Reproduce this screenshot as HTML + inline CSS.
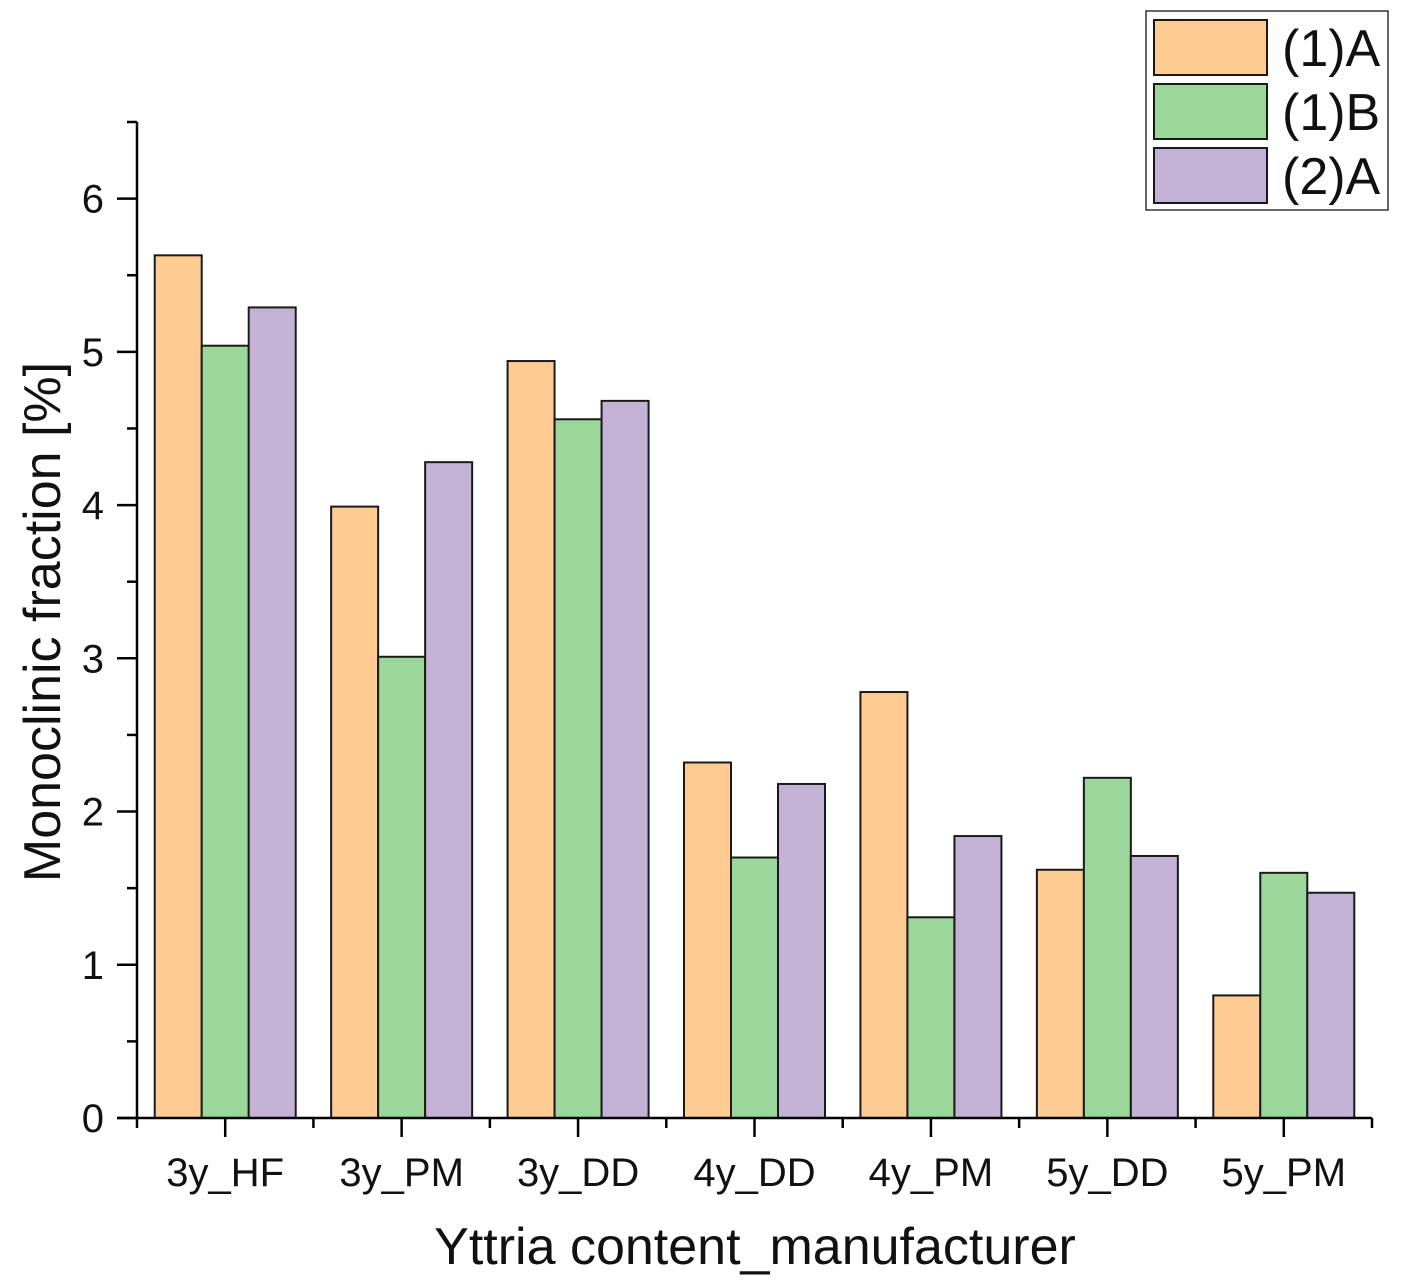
<!DOCTYPE html>
<html><head><meta charset="utf-8"><style>
html,body{margin:0;padding:0;background:#fff;}
svg{display:block;font-family:"Liberation Sans",Arial,sans-serif;}
</style></head><body>
<svg id="chart" width="1402" height="1284" viewBox="0 0 1402 1284" xmlns="http://www.w3.org/2000/svg"></svg>
<script>
const categories=["3y_HF","3y_PM","3y_DD","4y_DD","4y_PM","5y_DD","5y_PM"];
const seriesNames=["(1)A","(1)B","(2)A"];
const seriesA=[5.63,3.99,4.94,2.32,2.78,1.62,0.80];
const seriesB=[5.04,3.01,4.56,1.70,1.31,2.22,1.60];
const seriesC=[5.29,4.28,4.68,2.18,1.84,1.71,1.47];
const yTicks=[0,1,2,3,4,5,6];
const colors=["#FECB92","#9BD69B","#C4B2D6"];
const NS="http://www.w3.org/2000/svg";
const svg=document.getElementById('chart');
const x0=137,x1=1372,y0=1118,yTop=122,yMax=6.5;
const yScale=v=>y0-(v/yMax)*(y0-yTop);
const catW=(x1-x0)/categories.length;
const xCenter=i=>x0+catW*(i+0.5);
const barW=47;
function mk(tag,attrs){const e=document.createElementNS(NS,tag);for(const k in attrs)e.setAttribute(k,attrs[k]);svg.appendChild(e);return e;}
const all=[seriesA,seriesB,seriesC];
all.forEach((s,si)=>{s.forEach((v,i)=>{
  const r=mk('rect',{x:xCenter(i)-1.5*barW+si*barW,y:yScale(v),width:barW,height:y0-yScale(v),fill:colors[si],stroke:'#1a1a1a','stroke-width':2});
  
  
});});
const ya=mk('line',{x1:x0,y1:yTop,x2:x0,y2:y0+1,stroke:'#000','stroke-width':2.5});

mk('line',{x1:x0-10,y1:yTop,x2:x0,y2:yTop,stroke:'#000','stroke-width':2.5});
const xa=mk('line',{x1:x0-20,y1:y0,x2:x1,y2:y0,stroke:'#000','stroke-width':2.5});

yTicks.forEach(t=>{
  mk('line',{x1:x0-20,y1:yScale(t),x2:x0,y2:yScale(t),stroke:'#000','stroke-width':2.5});
  if(t<6)mk('line',{x1:x0-10,y1:yScale(t+0.5),x2:x0,y2:yScale(t+0.5),stroke:'#000','stroke-width':2.5});
  const tx=mk('text',{x:104,y:yScale(t)+14,'text-anchor':'end','font-size':40,fill:'#111'});
  tx.textContent=t;
  
});
for(let i=0;i<=categories.length;i++){
  mk('line',{x1:x0+catW*i,y1:y0,x2:x0+catW*i,y2:y0+10,stroke:'#000','stroke-width':2.5});
}
categories.forEach((c,i)=>{
  mk('line',{x1:xCenter(i),y1:y0,x2:xCenter(i),y2:y0+19,stroke:'#000','stroke-width':2.5});
  const tx=mk('text',{x:xCenter(i),y:1186,'text-anchor':'middle','font-size':40,fill:'#111'});
  tx.textContent=c;
  
});
const xt=mk('text',{x:755,y:1264,'text-anchor':'middle','font-size':52,fill:'#111'});
xt.textContent='Yttria content_manufacturer';

const yt=mk('text',{x:0,y:0,'text-anchor':'middle','font-size':52,fill:'#111',transform:'translate(60,622) rotate(-90)'});
yt.textContent='Monoclinic fraction [%]';

const lg=mk('rect',{x:1146,y:11,width:242,height:199,fill:'#fff',stroke:'#333','stroke-width':1.5});

seriesNames.forEach((n,si)=>{
  const yy=20+si*64;
  const sw=mk('rect',{x:1154,y:yy,width:113,height:55,fill:colors[si],stroke:'#1a1a1a','stroke-width':2});
  
  const tx=mk('text',{x:1282,y:yy+46,'font-size':52,fill:'#111'});
  tx.textContent=n;
  
});
</script>
</body></html>
